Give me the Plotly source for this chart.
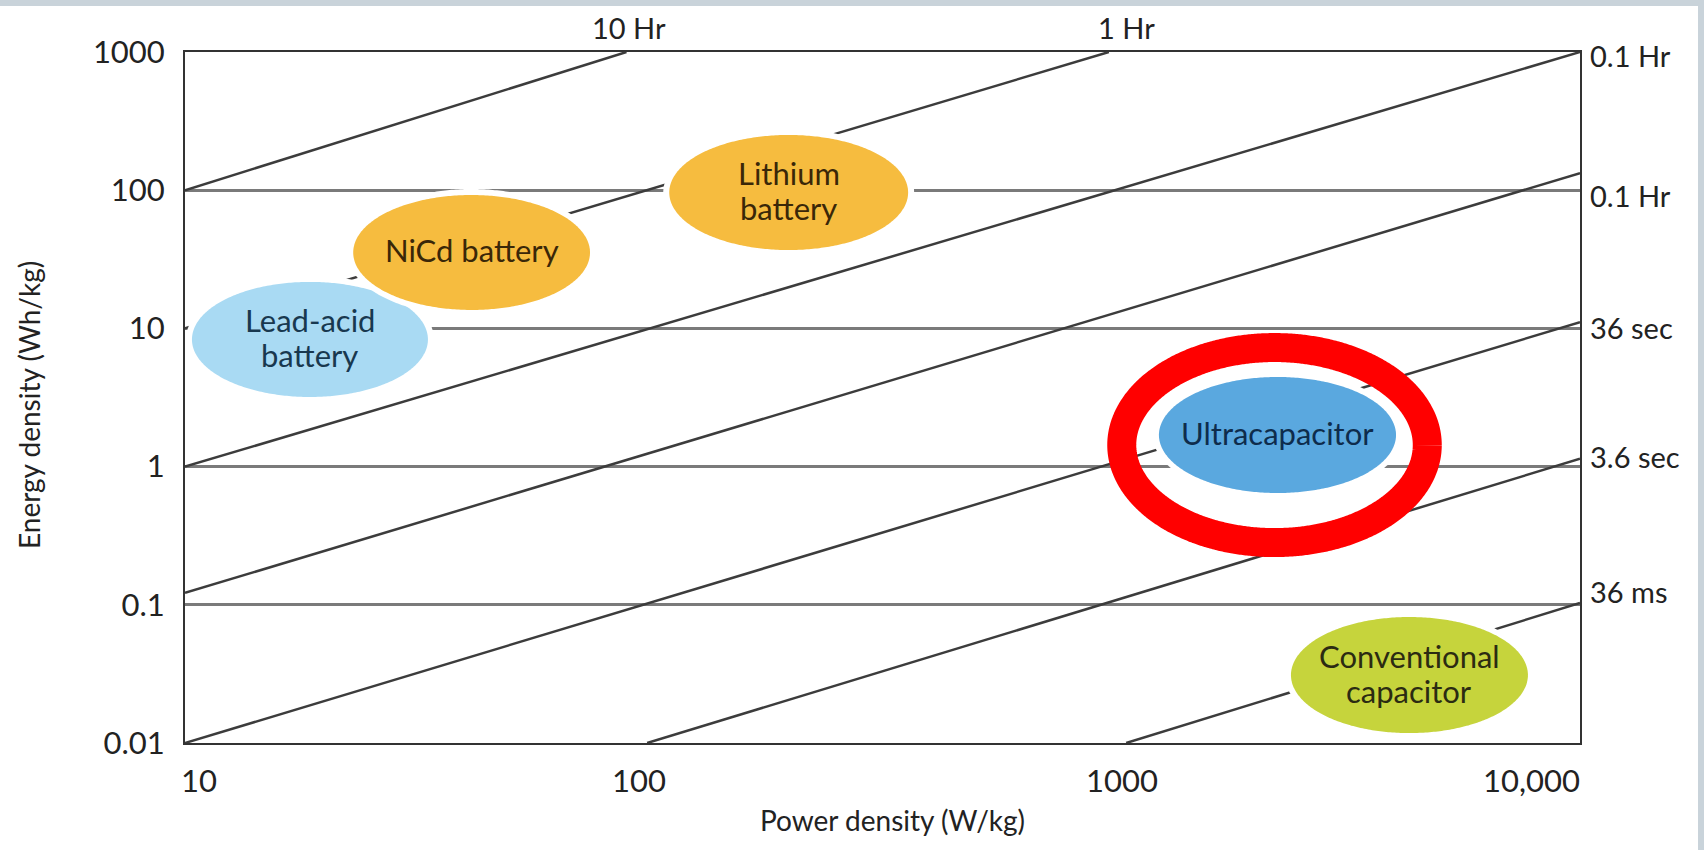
import numpy as np
import plotly.graph_objects as go

# ---------------- data ----------------
tech_names = ["Lead-acid\nbattery", "NiCd battery", "Lithium\nbattery",
              "Ultracapacitor", "Conventional\ncapacitor"]
power_lo = [10.35, 23.0, 110.0, 1243.0, 2390.0]      # W/kg
power_hi = [33.3, 74.3, 359.0, 4021.0, 7727.0]
energy_lo = [3.19, 13.6, 36.9, 0.644, 0.0118]       # Wh/kg
energy_hi = [21.7, 92.3, 251.0, 4.45, 0.0816]

# constant discharge-time lines (start / end points)
time_labels = ["10 Hr", "1 Hr", "0.1 Hr", "0.1 Hr", "36 sec", "3.6 sec", "36 ms"]
line_p0 = [10, 10, 10, 10, 10, 98.6, 1057]
line_e0 = [100, 10, 1, 0.122, 0.01, 0.01, 0.01]
line_p1 = [89, 970, 10000, 10000, 10000, 10000, 10000]
line_e1 = [1000, 1000, 1000, 133, 11.1, 1.14, 0.103]

# highlighted region (red ring around ultracapacitor)
ring_power = [1034, 4694]
ring_energy = [0.282, 7.27]

x_ticks = [10, 100, 1000, 10000]
x_ticktext = ["10", "100", "1000", "10,000"]
y_ticks = [0.01, 0.1, 1, 10, 100, 1000]
y_ticktext = ["0.01", "0.1", "1", "10", "100", "1000"]

# ---------------- styles ----------------
fill_colors = ["#a9daf3", "#f6bc3f", "#f6bc3f", "#5aa8df", "#c6d43c"]
text_colors = ["#18384f", "#3a2708", "#3a2708", "#0e2c4c", "#2b2b12"]
FONT = "Lato"
W, H = 1704, 850
ML, MR, MT, MB = 185, 124, 52, 107
PW, PH = W - ML - MR, H - MT - MB
XDEC, YDEC = PW / 3.0, PH / 5.0  # px per decade

fig = go.Figure()

# diagonal time lines
for p0, e0, p1, e1 in zip(line_p0, line_e0, line_p1, line_e1):
    fig.add_trace(go.Scatter(x=[p0, p1], y=[e0, e1], mode="lines",
                             line=dict(color="#3c3c3c", width=2.5),
                             hoverinfo="skip", showlegend=False, cliponaxis=False))


def ellipse(plo, phi, elo, ehi, pad_px=0.0, n=360, extra=0.0):
    cx = (np.log10(plo) + np.log10(phi)) / 2
    cy = (np.log10(elo) + np.log10(ehi)) / 2
    ax = (np.log10(phi) - np.log10(plo)) / 2 + pad_px / XDEC
    ay = (np.log10(ehi) - np.log10(elo)) / 2 + pad_px / YDEC
    t = np.linspace(0, 2 * np.pi + extra, n)
    return 10 ** (cx + ax * np.cos(t)), 10 ** (cy + ay * np.sin(t)), cx, cy


# ellipses with white halo
for i in range(len(tech_names)):
    hx, hy, _, _ = ellipse(power_lo[i], power_hi[i], energy_lo[i], energy_hi[i], pad_px=6)
    fig.add_trace(go.Scatter(x=hx, y=hy, mode="lines", fill="toself",
                             fillcolor="white", line=dict(width=0, color="white", simplify=False),
                             hoverinfo="skip", showlegend=False))
    ex, ey, _, _ = ellipse(power_lo[i], power_hi[i], energy_lo[i], energy_hi[i])
    fig.add_trace(go.Scatter(x=ex, y=ey, mode="lines", fill="toself",
                             fillcolor=fill_colors[i],
                             line=dict(width=0, color=fill_colors[i], simplify=False),
                             hoverinfo="skip", showlegend=False))

# red highlight ring
rx, ry, _, _ = ellipse(ring_power[0], ring_power[1], ring_energy[0], ring_energy[1],
                       n=720, extra=0.3)
fig.add_trace(go.Scatter(x=rx, y=ry, mode="lines",
                         line=dict(color="#ff0000", width=29, simplify=False),
                         hoverinfo="skip", showlegend=False))

annotations = []
# ellipse labels (one annotation per text line)
LS = 35
for i, name in enumerate(tech_names):
    _, _, cx, cy = ellipse(power_lo[i], power_hi[i], energy_lo[i], energy_hi[i])
    lines = name.split("\n")
    n = len(lines)
    for k, ln in enumerate(lines):
        annotations.append(dict(x=cx, y=cy, xref="x", yref="y", text=ln, showarrow=False,
                                xanchor="center", yanchor="middle",
                                yshift=(n - 1) / 2 * LS - k * LS + 2,
                                font=dict(family=FONT, size=31, color=text_colors[i])))

# time labels: top ones above the line end, right ones beside it
right_shift = {2: -3, 3: -22, 4: -5, 5: 2, 6: 12}
top_shift = {0: 3, 1: 18}
for i, lab in enumerate(time_labels):
    if line_e1[i] >= 1000 and line_p1[i] < 10000:
        annotations.append(dict(x=np.log10(line_p1[i]), y=1, xref="x", yref="paper", text=lab,
                                showarrow=False, xanchor="center", yanchor="middle",
                                xshift=top_shift.get(i, 0), yshift=25,
                                font=dict(family=FONT, size=29, color="#222222")))
    else:
        annotations.append(dict(x=1, y=np.log10(line_e1[i]), xref="paper", yref="y", text=lab,
                                showarrow=False, xanchor="left", yanchor="middle",
                                xshift=8, yshift=right_shift.get(i, 0),
                                font=dict(family=FONT, size=29, color="#222222")))

# x tick labels
x_anchor = ["left", "center", "center", "right"]
x_shift = [-6, -11, 7, 2]
for v, t, a, s in zip(x_ticks, x_ticktext, x_anchor, x_shift):
    annotations.append(dict(x=np.log10(v), y=0, xref="x", yref="paper", text=t, showarrow=False,
                            xanchor=a, yanchor="middle", xshift=s, yshift=-37,
                            font=dict(family=FONT, size=31, color="#222222")))

# axis titles
annotations.append(dict(x=(892 - ML) / PW, y=(H - MB - 820) / PH, xref="paper", yref="paper",
                        text="Power density (W/kg)", showarrow=False, xanchor="center",
                        yanchor="middle", font=dict(family=FONT, size=28, color="#222222")))
annotations.append(dict(x=(29 - ML) / PW, y=(H - MB - 405) / PH, xref="paper", yref="paper",
                        text="Energy density (Wh/kg)", showarrow=False, xanchor="center",
                        yanchor="middle", textangle=-90,
                        font=dict(family=FONT, size=28, color="#222222")))

shapes = [
    dict(type="rect", xref="paper", yref="paper", x0=-0.5, x1=1.5,
         y0=(H - MB - 6) / PH, y1=1.5, fillcolor="#c9d3da", line=dict(width=0), layer="below"),
    dict(type="rect", xref="paper", yref="paper", x0=(W - 6 - ML) / PW, x1=1.5,
         y0=-0.5, y1=1.5, fillcolor="#c9d3da", line=dict(width=0), layer="below"),
]

fig.update_layout(
    width=W, height=H,
    margin=dict(l=ML, r=MR, t=MT, b=MB, pad=0),
    paper_bgcolor="white", plot_bgcolor="white",
    showlegend=False,
    annotations=annotations,
    shapes=shapes,
    xaxis=dict(type="log", range=[1, 4], showgrid=False, zeroline=False,
               showline=True, mirror=True, linecolor="#333333", linewidth=2,
               showticklabels=False, ticks="", fixedrange=True),
    yaxis=dict(type="log", range=[-2, 3], tickvals=y_ticks, ticktext=y_ticktext,
               showgrid=True, gridcolor="#7a7a7a", gridwidth=3, zeroline=False,
               showline=True, mirror=True, linecolor="#333333", linewidth=2,
               ticks="", ticklabelstandoff=12,
               tickfont=dict(family=FONT, size=31, color="#222222"), fixedrange=True),
)

fig.write_html("out.html")
